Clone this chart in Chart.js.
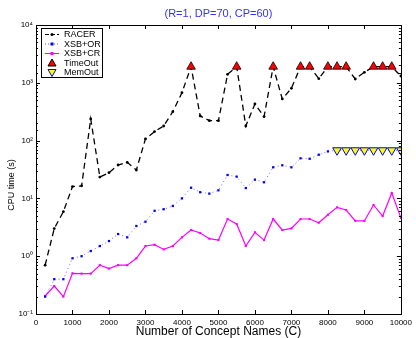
<!DOCTYPE html>
<html>
<head>
<meta charset="utf-8">
<script src="https://cdn.jsdelivr.net/npm/chart.js@4.4.1/dist/chart.umd.min.js"></script>
<style>
  html, body { margin: 0; padding: 0; background: #fff; }
</style>
</head>
<body>
<canvas id="cpuChart" width="416" height="338"></canvas>
<script>
"use strict";

// number of concept names (x)
const conceptNames = [250, 500, 750, 1000, 1250, 1500, 1750, 2000, 2250, 2500,
    2750, 3000, 3250, 3500, 3750, 4000, 4250, 4500, 4750, 5000,
    5250, 5500, 5750, 6000, 6250, 6500, 6750, 7000, 7250, 7500,
    7750, 8000, 8250, 8500, 8750, 9000, 9250, 9500, 9750, 10000];

// CPU time (s)
const racerTimes = [0.7, 3.0, 5.9, 16, 16.5, 237, 23.4, 27.9, 37.8, 42,
    31, 107, 143, 179, 316, 674, 1900, 267, 221, 221,
    1400, 1900, 179, 430, 260, 1900, 525, 803, 1900, 1900,
    1178, 1900, 1900, 1900, 1164, 1520, 1900, 1900, 1900, 1310];

const xsbOrTimes = [0.2, 0.4, 0.4, 0.92, 1.0, 1.23, 1.5, 1.83, 2.42, 2.12,
    3.33, 3.95, 6.1, 6.5, 7.4, 10, 15.3, 12.8, 12.1, 13.8,
    25.4, 23.8, 15.1, 21.1, 19, 34.5, 37.4, 34.5, 49.4, 48.5,
    57, 65, 68, 68, 68, 68, 68, 68, 68, 68];

const xsbCrTimes = [0.205, 0.305, 0.2, 0.506, 0.5, 0.5, 0.7, 0.61, 0.7, 0.7,
    0.92, 1.5, 1.58, 1.31, 1.5, 2.12, 2.84, 2.52, 2.01, 1.9,
    4.4, 3.6, 1.5, 2.59, 1.9, 4.4, 2.84, 3.03, 4.4, 4.4,
    3.8, 5.2, 7.0, 6.3, 4.1, 4.07, 7.7, 4.95, 12.4, 4.6];

// where runs hit the limits
const timeOutNames = [4250, 5500, 6500, 7250, 7500, 8000, 8250, 8500, 9250, 9500, 9750];
const timeOutLevel = 1900;
const memOutNames = [8250, 8500, 8750, 9000, 9250, 9500, 9750, 10000];
const memOutLevel = 68;

const xTicks = [0, 1000, 2000, 3000, 4000, 5000, 6000, 7000, 8000, 9000, 10000];

const FONT = '"Liberation Sans", Arial, sans-serif';
const supDigits = { '-': '\u207B', '0': '\u2070', '1': '\u00B9', '2': '\u00B2', '3': '\u00B3', '4': '\u2074' };

function toPoints(xs, ys) {
    return xs.map((x, i) => ({ x: x, y: Array.isArray(ys) ? ys[i] : ys }));
}

function isDecade(v) {
    let e = Math.log10(v);
    return Math.abs(e - Math.round(e)) < 1e-9;
}

// box, inward ticks, titles, legend (matlab look)
const matlabFrame = {
    id: 'matlabFrame',
    afterDatasetsDraw(chart) {
        const { ctx, chartArea: a, scales } = chart;
        ctx.save();
        ctx.strokeStyle = '#000';
        ctx.lineWidth = 1;
        ctx.setLineDash([]);
        ctx.beginPath();
        xTicks.forEach(v => {
            let px = Math.round(scales.x.getPixelForValue(v)) + 0.5;
            ctx.moveTo(px, a.bottom); ctx.lineTo(px, a.bottom - 4);
            ctx.moveTo(px, a.top); ctx.lineTo(px, a.top + 4);
        });
        scales.y.ticks.forEach(t => {
            let py = Math.round(scales.y.getPixelForValue(t.value)) + 0.5;
            let len = isDecade(t.value) ? 4 : 2;
            ctx.moveTo(a.left, py); ctx.lineTo(a.left + len, py);
            ctx.moveTo(a.right, py); ctx.lineTo(a.right - len, py);
        });
        ctx.stroke();
        ctx.strokeRect(Math.round(a.left) + 0.5, Math.round(a.top) + 0.5,
            Math.round(a.right - a.left), Math.round(a.bottom - a.top));
        ctx.restore();
    },
    afterDraw(chart) {
        const { ctx, chartArea: a } = chart;
        ctx.save();
        // title
        ctx.fillStyle = '#3333ff';
        ctx.font = '11px ' + FONT;
        ctx.textAlign = 'center';
        ctx.textBaseline = 'middle';
        ctx.fillText('(R=1, DP=70, CP=60)', (a.left + a.right) / 2, 14);

        // y axis title, sits a bit low like the original
        ctx.save();
        ctx.fillStyle = '#000';
        ctx.font = '9px ' + FONT;
        ctx.translate(12, 185);
        ctx.rotate(-Math.PI / 2);
        ctx.fillText('CPU time (s)', 0, 0);
        ctx.restore();

        // legend box
        let bx = a.left + 5, by = a.top + 3, bw = 61, bh = 49;
        ctx.fillStyle = '#fff';
        ctx.fillRect(bx, by, bw, bh);
        ctx.strokeStyle = '#000';
        ctx.lineWidth = 1;
        ctx.strokeRect(bx + 0.5, by + 0.5, bw, bh);

        const rows = [
            { label: 'RACER', color: '#000', dash: [4, 2], mark: 'dot' },
            { label: 'XSB+OR', color: '#5555ff', dash: [1, 2], mark: 'square', markColor: '#0000ff' },
            { label: 'XSB+CR', color: '#ff00ff', dash: [], mark: 'square', markColor: '#ff00ff' },
            { label: 'TimeOut', mark: 'up' },
            { label: 'MemOut', mark: 'down' }
        ];
        ctx.font = '9px ' + FONT;
        ctx.textAlign = 'left';
        ctx.textBaseline = 'middle';
        rows.forEach((r, i) => {
            let y = by + 6.5 + i * 9.5;
            let x0 = bx + 4, x1 = bx + 18, xm = (x0 + x1) / 2;
            if (r.color) {
                ctx.strokeStyle = r.color;
                ctx.setLineDash(r.dash);
                ctx.lineWidth = 1;
                ctx.beginPath();
                ctx.moveTo(x0, y); ctx.lineTo(x1, y);
                ctx.stroke();
                ctx.setLineDash([]);
            }
            if (r.mark === 'dot') {
                ctx.fillStyle = '#000';
                ctx.beginPath(); ctx.arc(xm, y, 1.5, 0, Math.PI * 2); ctx.fill();
            } else if (r.mark === 'square') {
                ctx.fillStyle = r.markColor;
                ctx.fillRect(xm - 1.5, y - 1.5, 3, 3);
            } else if (r.mark === 'up') {
                ctx.fillStyle = '#ff0000'; ctx.strokeStyle = '#000';
                ctx.beginPath();
                ctx.moveTo(xm, y - 4); ctx.lineTo(xm + 4, y + 3); ctx.lineTo(xm - 4, y + 3);
                ctx.closePath(); ctx.fill(); ctx.stroke();
            } else if (r.mark === 'down') {
                ctx.fillStyle = '#ffff00'; ctx.strokeStyle = '#0000ff';
                ctx.beginPath();
                ctx.moveTo(xm, y + 4); ctx.lineTo(xm + 4, y - 3); ctx.lineTo(xm - 4, y - 3);
                ctx.closePath(); ctx.fill(); ctx.stroke();
            }
            ctx.fillStyle = '#000';
            ctx.fillText(r.label, bx + 23, y + 0.5);
        });
        ctx.restore();
    }
};

const ctx = document.getElementById('cpuChart').getContext('2d');

new Chart(ctx, {
    type: 'line',
    data: {
        datasets: [
            {
                label: 'TimeOut',
                data: toPoints(timeOutNames, timeOutLevel),
                showLine: false,
                pointStyle: 'triangle',
                pointRadius: 5,
                backgroundColor: '#ff0000',
                borderColor: '#000',
                borderWidth: 0.8
            },
            {
                label: 'MemOut',
                data: toPoints(memOutNames, memOutLevel),
                showLine: false,
                pointStyle: 'triangle',
                rotation: 180,
                pointRadius: 5,
                backgroundColor: '#ffff00',
                borderColor: '#0000ff',
                borderWidth: 1
            },
            {
                label: 'RACER',
                data: toPoints(conceptNames, racerTimes),
                borderColor: '#000',
                borderWidth: 1.3,
                borderDash: [6, 4],
                pointStyle: 'circle',
                pointRadius: 1.4,
                pointBackgroundColor: '#000',
                pointBorderWidth: 0
            },
            {
                label: 'XSB+OR',
                data: toPoints(conceptNames, xsbOrTimes),
                borderColor: '#6a6aff',
                borderWidth: 1,
                borderDash: [1, 3],
                pointStyle: 'rect',
                pointRadius: 1.6,
                pointBackgroundColor: '#0000ff',
                pointBorderWidth: 0
            },
            {
                label: 'XSB+CR',
                data: toPoints(conceptNames, xsbCrTimes),
                borderColor: '#ff00ff',
                borderWidth: 1.2,
                pointStyle: 'rect',
                pointRadius: 1.5,
                pointBackgroundColor: '#ff00ff',
                pointBorderWidth: 0
            }
        ]
    },
    options: {
        responsive: false,
        animation: false,
        devicePixelRatio: 1,
        layout: { padding: { top: 25, right: 13, left: 0, bottom: 0 } },
        plugins: {
            legend: { display: false },
            title: { display: false },
            tooltip: { enabled: false }
        },
        scales: {
            x: {
                type: 'linear',
                min: 0,
                max: 10000,
                afterFit: s => { s.height = 24; },
                afterBuildTicks: s => { s.ticks = xTicks.map(v => ({ value: v })); },
                grid: { display: false, drawTicks: false },
                border: { display: false },
                ticks: {
                    padding: 4,
                    color: '#000',
                    font: { family: FONT, size: 8 },
                    maxRotation: 0,
                    autoSkip: false,
                    callback: v => String(v)
                },
                title: {
                    display: true,
                    text: 'Number of Concept Names (C)',
                    color: '#000',
                    font: { family: FONT, size: 12, lineHeight: 1 },
                    padding: 0
                }
            },
            y: {
                type: 'logarithmic',
                min: 0.1,
                max: 10000,
                afterFit: s => { s.width = 36; },
                grid: { display: false, drawTicks: false },
                border: { display: false },
                ticks: {
                    padding: 3,
                    autoSkip: false,
                    color: '#000',
                    font: { family: FONT, size: 8 },
                    callback: v => {
                        if (!isDecade(v)) return '';
                        let e = String(Math.round(Math.log10(v)));
                        return '10' + e.split('').map(c => supDigits[c]).join('');
                    }
                }
            }
        }
    },
    plugins: [matlabFrame]
});
</script>
</body>
</html>
